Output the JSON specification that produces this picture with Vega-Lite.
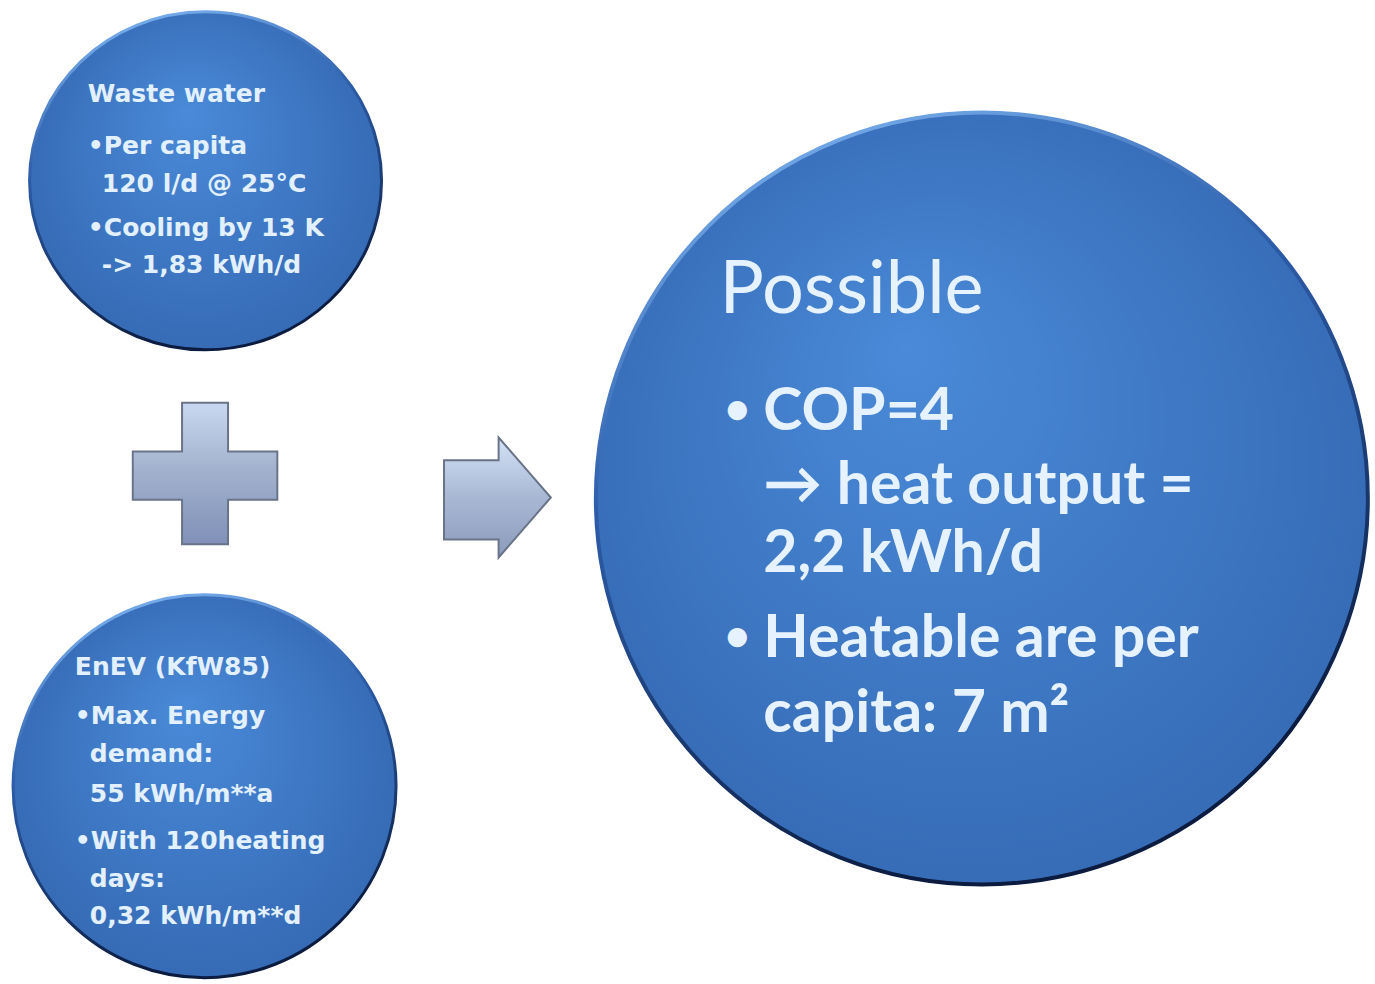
{
  "$schema": "https://vega.github.io/schema/vega-lite/v6.json",
  "width": 1375,
  "height": 984,
  "autosize": {"type": "fit", "contains": "padding"},
  "padding": 0,
  "background": "white",
  "config": {"view": {"stroke": null}},
  "encoding": {
    "x": {"field": "x", "type": "quantitative", "scale": {"domain": [0, 1375], "nice": false, "zero": false}, "axis": null},
    "y": {"field": "y", "type": "quantitative", "scale": {"domain": [0, 984], "nice": false, "zero": false, "reverse": true}, "axis": null}
  },
  "layer": [
    {
      "data": {"values": [{"name": "Waste water", "x": 206, "y": 181}]},
      "mark": {"type": "point", "shape": "M-1,0A1,0.96 0 1,0 1,0A1,0.96 0 1,0 -1,0Z", "size": 123904, "filled": true, "opacity": 1, "strokeWidth": 3,
        "fill": {"gradient": "radial", "x1": 0.45, "y1": 0.3, "r1": 0, "x2": 0.5, "y2": 0.5, "r2": 0.6, "stops": [{"offset": 0, "color": "#4a8ad8"}, {"offset": 1, "color": "#3366b0"}]},
        "stroke": {"gradient": "linear", "x1": 0, "y1": 0, "x2": 0.3, "y2": 1, "stops": [{"offset": 0, "color": "#8cc4ff"}, {"offset": 0.45, "color": "#2c5ca8"}, {"offset": 1, "color": "#0b1c40"}]}}
    },
    {
      "data": {"values": [{"name": "EnEV", "x": 205, "y": 787}]},
      "mark": {"type": "point", "shape": "circle", "size": 146689, "filled": true, "opacity": 1, "strokeWidth": 3,
        "fill": {"gradient": "radial", "x1": 0.45, "y1": 0.3, "r1": 0, "x2": 0.5, "y2": 0.5, "r2": 0.6, "stops": [{"offset": 0, "color": "#4a8ad8"}, {"offset": 1, "color": "#3366b0"}]},
        "stroke": {"gradient": "linear", "x1": 0, "y1": 0, "x2": 0.3, "y2": 1, "stops": [{"offset": 0, "color": "#8cc4ff"}, {"offset": 0.45, "color": "#2c5ca8"}, {"offset": 1, "color": "#0b1c40"}]}}
    },
    {
      "data": {"values": [{"name": "Possible", "x": 984, "y": 499}]},
      "mark": {"type": "point", "shape": "circle", "size": 595984, "filled": true, "opacity": 1, "strokeWidth": 4,
        "fill": {"gradient": "radial", "x1": 0.4, "y1": 0.3, "r1": 0, "x2": 0.5, "y2": 0.5, "r2": 0.6, "stops": [{"offset": 0, "color": "#4a8ad8"}, {"offset": 1, "color": "#3468b2"}]},
        "stroke": {"gradient": "linear", "x1": 0, "y1": 0, "x2": 0.4, "y2": 1, "stops": [{"offset": 0, "color": "#8cc4ff"}, {"offset": 0.45, "color": "#2c5ca8"}, {"offset": 1, "color": "#0b1c40"}]}}
    },
    {
      "data": {"values": [{"name": "plus", "x": 205.5, "y": 474}]},
      "mark": {"type": "point", "shape": "M-0.315,-0.97L0.315,-0.97L0.315,-0.3L0.99,-0.3L0.99,0.36L0.315,0.36L0.315,0.97L-0.315,0.97L-0.315,0.36L-0.99,0.36L-0.99,-0.3L-0.315,-0.3Z", "size": 21316, "filled": true, "opacity": 1, "strokeWidth": 2,
        "fill": {"gradient": "linear", "x1": 0, "y1": 0, "x2": 0, "y2": 1, "stops": [{"offset": 0, "color": "#c8d8f0"}, {"offset": 0.5, "color": "#a0b0cc"}, {"offset": 1, "color": "#8090b8"}]},
        "stroke": "#6a7488"}
    },
    {
      "data": {"values": [{"name": "arrow", "x": 498.5, "y": 498}]},
      "mark": {"type": "point", "shape": "M-0.89,-0.62L0.02,-0.62L0.02,-1L0.89,0L0.02,1L0.02,0.7L-0.89,0.7Z", "size": 14400, "filled": true, "opacity": 1, "strokeWidth": 2,
        "fill": {"gradient": "linear", "x1": 0, "y1": 0, "x2": 0, "y2": 1, "stops": [{"offset": 0, "color": "#d4e2f6"}, {"offset": 0.5, "color": "#a8b8d4"}, {"offset": 1, "color": "#8a9aba"}]},
        "stroke": "#6a7488"}
    },
    {
      "data": {"values": [
        {"text": "Waste water", "x": 88, "y": 102},
        {"text": "•Per capita", "x": 88, "y": 154},
        {"text": "120 l/d @ 25°C", "x": 102, "y": 192},
        {"text": "•Cooling by 13 K", "x": 88, "y": 236},
        {"text": "-> 1,83 kWh/d", "x": 102, "y": 273},
        {"text": "EnEV (KfW85)", "x": 75, "y": 676},
        {"text": "•Max. Energy", "x": 75, "y": 725},
        {"text": "demand:", "x": 90, "y": 763},
        {"text": "55  kWh/m**a", "x": 90, "y": 803},
        {"text": "•With 120heating", "x": 75, "y": 850},
        {"text": "days:", "x": 90, "y": 888},
        {"text": "0,32 kWh/m**d", "x": 90, "y": 925}
      ]},
      "mark": {"type": "text", "align": "left", "baseline": "alphabetic", "font": "DejaVu Sans", "fontWeight": "bold", "fontSize": 25, "color": "#e2f0ff", "opacity": 1},
      "encoding": {"text": {"field": "text", "type": "nominal"}}
    },
    {
      "data": {"values": [{"text": "Possible", "x": 721, "y": 313}]},
      "mark": {"type": "text", "align": "left", "baseline": "alphabetic", "font": "Lato", "fontSize": 74, "color": "#e6f2ff", "opacity": 1},
      "encoding": {"text": {"field": "text", "type": "nominal"}}
    },
    {
      "data": {"values": [
        {"text": "•", "x": 726, "y": 424},
        {"text": "•", "x": 726, "y": 652}
      ]},
      "mark": {"type": "text", "align": "left", "baseline": "alphabetic", "font": "Lato", "fontWeight": "bold", "fontSize": 44, "color": "#e6f2ff", "opacity": 1},
      "encoding": {"text": {"field": "text", "type": "nominal"}}
    },
    {
      "data": {"values": [
        {"text": "COP=4", "x": 765, "y": 430},
        {"text": "→ heat output =", "x": 765, "y": 505},
        {"text": "2,2 kWh/d", "x": 765, "y": 573},
        {"text": "Heatable are per", "x": 765, "y": 658},
        {"text": "capita: 7 m²", "x": 765, "y": 733}
      ]},
      "mark": {"type": "text", "align": "left", "baseline": "alphabetic", "font": "Lato", "fontWeight": "bold", "fontSize": 59, "color": "#e6f2ff", "opacity": 1},
      "encoding": {"text": {"field": "text", "type": "nominal"}}
    }
  ]
}
